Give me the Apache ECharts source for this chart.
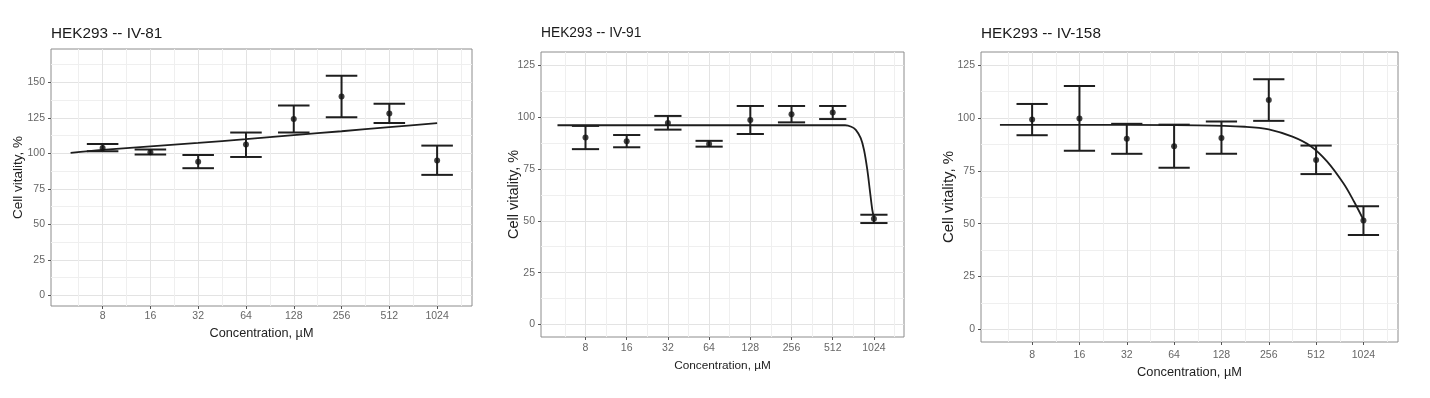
<!DOCTYPE html>
<html>
<head>
<meta charset="utf-8">
<script src="https://cdn.jsdelivr.net/npm/echarts@6/dist/echarts.min.js"></script>
<style>
html, body { margin: 0; padding: 0; background: #fff; }
#chart { width: 1430px; height: 398px; }
</style>
</head>
<body>
<div id="chart"></div>
<script>
// concentrations (µM), plotted on a log2 axis
const concentrations = [8, 16, 32, 64, 128, 256, 512, 1024]
const titles = ['HEK293 -- IV-81', 'HEK293 -- IV-91', 'HEK293 -- IV-158']

// IV-81
const meanIV81 = [103.8, 100.8, 94.1, 106.2, 124.1, 139.9, 128.0, 94.9]
const lowIV81 = [101.5, 99.2, 89.5, 97.4, 114.6, 125.4, 121.4, 84.8]
const highIV81 = [106.6, 102.6, 98.8, 114.6, 133.7, 154.6, 134.8, 105.4]
const fitXIV81 = [2.33, 3, 4, 5, 6, 7, 8, 9, 10]
const fitYIV81 = [100.3, 102.4, 104.9, 107.3, 109.9, 112.8, 115.5, 118.4, 121.2]

// IV-91
const meanIV91 = [90.1, 88.3, 97.1, 87.0, 98.6, 101.3, 102.1, 51.0]
const lowIV91 = [84.5, 85.4, 93.9, 85.7, 91.8, 97.4, 99.0, 48.9]
const highIV91 = [95.7, 91.3, 100.5, 88.5, 105.3, 105.3, 105.3, 52.9]
const fitXIV91 = [2.32, 5, 8, 9.3, 9.45, 9.56, 9.68, 9.76, 9.84, 9.9, 9.96, 10.0]
const fitYIV91 = [96.0, 96.0, 96.0, 96.0, 95.3, 93.8, 89.8, 84.1, 74.5, 64.9, 55.3, 51.5]

// IV-158
const meanIV158 = [99.3, 99.8, 90.2, 86.7, 90.6, 108.6, 80.2, 51.5]
const lowIV158 = [91.9, 84.5, 83.1, 76.5, 83.1, 98.7, 73.5, 44.6]
const highIV158 = [106.7, 115.2, 97.3, 96.9, 98.4, 118.4, 87.0, 58.3]
const fitXIV158 = [2.32, 5, 6.5, 7.5, 8.0, 8.5, 8.88, 9.23, 9.58, 9.8, 10.0]
const fitYIV158 = [96.8, 96.8, 96.6, 95.9, 94.7, 91.2, 86.8, 79.5, 69.0, 60.5, 51.8]

const yTicks81 = [0, 25, 50, 75, 100, 125, 150]
const yTicks = [0, 25, 50, 75, 100, 125]

const panels = [
  { mean: meanIV81, low: lowIV81, high: highIV81, fx: fitXIV81, fy: fitYIV81, yMin: -7.5, yMax: 173.4, yt: yTicks81,
    grid: { left: 51, top: 49, width: 421, height: 257 },
    titleSize: 15.3, xName: 12.7, yName: 13.5, xGap: 19, yGap: 26, xMargin: 5, titleLeft: 51 },
  { mean: meanIV91, low: lowIV91, high: highIV91, fx: fitXIV91, fy: fitYIV91, yMin: -6, yMax: 131.3, yt: yTicks,
    grid: { left: 541, top: 52, width: 363, height: 285 },
    titleSize: 13.8, xName: 11.8, yName: 14.5, xGap: 23, yGap: 20, xMargin: 6, titleLeft: 541 },
  { mean: meanIV158, low: lowIV158, high: highIV158, fx: fitXIV158, fy: fitYIV158, yMin: -6, yMax: 131.3, yt: yTicks,
    grid: { left: 981, top: 52, width: 417, height: 290 },
    titleSize: 15.3, xName: 12.8, yName: 15, xGap: 23, yGap: 25, xMargin: 8, titleLeft: 981 }
]

const FONT = '"Liberation Sans", Arial, sans-serif'
const logX = concentrations.map(c => Math.log2(c))
const capHalf = 0.33

const chart = echarts.init(document.getElementById('chart'))

const option = {
  animation: false,
  backgroundColor: '#fff',
  title: [],
  grid: [],
  xAxis: [],
  yAxis: [],
  series: []
}

panels.forEach((p, i) => {
  option.title.push({
    text: titles[i],
    left: p.titleLeft,
    top: 26,
    padding: 0,
    textStyle: { fontFamily: FONT, fontSize: p.titleSize, fontWeight: 'normal', color: '#1a1a1a' }
  })
  option.grid.push(Object.assign({
    show: true,
    backgroundColor: '#fff',
    borderColor: '#8c8c8c',
    borderWidth: 1,
    containLabel: false,
    outerBoundsMode: 'none'
  }, p.grid))
  option.xAxis.push({
    type: 'value',
    gridIndex: i,
    min: 1.92,
    max: 10.73,
    minInterval: 1,
    maxInterval: 1,
    name: 'Concentration, µM',
    nameLocation: 'middle',
    nameGap: p.xGap,
    nameTextStyle: { fontFamily: FONT, fontSize: p.xName, color: '#222' },
    axisLine: { show: false, onZero: false },
    axisTick: { show: true, length: 3, customValues: logX, lineStyle: { color: '#555' } },
    axisLabel: {
      customValues: logX,
      margin: p.xMargin,
      fontFamily: FONT, fontSize: 10.5, color: '#666',
      formatter: v => String(Math.round(Math.pow(2, v)))
    },
    splitLine: { show: true, lineStyle: { color: '#e3e3e3', width: 1 } },
    minorTick: { show: false, splitNumber: 2 },
    minorSplitLine: { show: true, lineStyle: { color: '#efefef', width: 1 } }
  })
  option.yAxis.push({
    type: 'value',
    gridIndex: i,
    min: p.yMin,
    max: p.yMax,
    minInterval: 25,
    maxInterval: 25,
    name: 'Cell vitality, %',
    nameLocation: 'middle',
    nameGap: p.yGap,
    nameMoveOverlap: false,
    nameTextStyle: { fontFamily: FONT, fontSize: p.yName, color: '#222' },
    axisLine: { show: false, onZero: false },
    axisTick: { show: true, length: 3, customValues: p.yt, lineStyle: { color: '#555' } },
    axisLabel: {
      customValues: p.yt,
      margin: 6,
      fontFamily: FONT, fontSize: 10.5, color: '#666'
    },
    splitLine: { show: true, lineStyle: { color: '#e3e3e3', width: 1 } },
    minorTick: { show: false, splitNumber: 2 },
    minorSplitLine: { show: true, lineStyle: { color: '#efefef', width: 1 } }
  })

  // error bars
  option.series.push({
    type: 'custom',
    xAxisIndex: i,
    yAxisIndex: i,
    data: logX.map((x, k) => [x, p.low[k], p.high[k]]),
    encode: { x: 0, y: [1, 2] },
    z: 3,
    renderItem: (params, api) => {
      const x = api.value(0)
      const lo = api.coord([x, api.value(1)])
      const hi = api.coord([x, api.value(2)])
      const half = api.size([capHalf, 0])[0]
      const style = { stroke: '#1e1e1e', lineWidth: 2 }
      return {
        type: 'group',
        children: [
          { type: 'line', shape: { x1: lo[0], y1: lo[1], x2: hi[0], y2: hi[1] }, style },
          { type: 'line', shape: { x1: lo[0] - half, y1: lo[1], x2: lo[0] + half, y2: lo[1] }, style },
          { type: 'line', shape: { x1: hi[0] - half, y1: hi[1], x2: hi[0] + half, y2: hi[1] }, style }
        ]
      }
    }
  })
  // fitted curve
  option.series.push({
    type: 'line',
    xAxisIndex: i,
    yAxisIndex: i,
    data: p.fx.map((x, k) => [x, p.fy[k]]),
    smooth: 0.35,
    showSymbol: false,
    z: 4,
    lineStyle: { color: '#1e1e1e', width: 1.8 }
  })
  // means
  option.series.push({
    type: 'scatter',
    xAxisIndex: i,
    yAxisIndex: i,
    data: logX.map((x, k) => [x, p.mean[k]]),
    symbolSize: 6,
    z: 5,
    itemStyle: { color: '#111' }
  })
})

chart.setOption(option)
</script>
</body>
</html>
